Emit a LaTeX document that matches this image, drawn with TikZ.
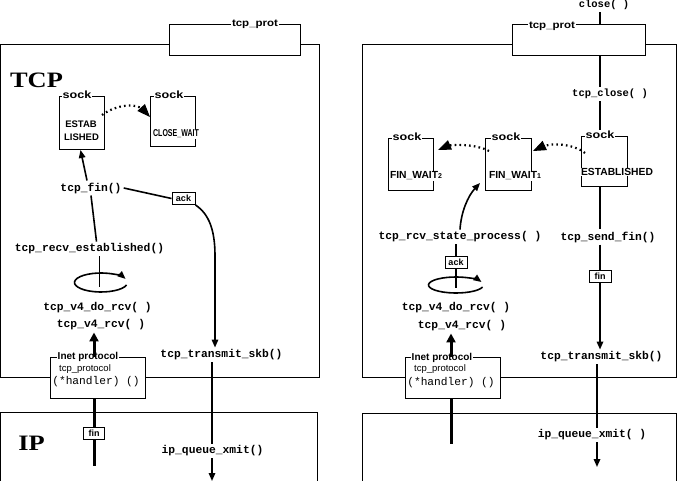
\documentclass[tikz,border=0pt]{standalone}
\usepackage{fontspec}
\newfontfamily\fnfont{Liberation Mono}
\newfontfamily\lbfont{Liberation Sans}
\newfontfamily\serifb{Liberation Serif}
\usetikzlibrary{arrows.meta,calc}
\begin{document}
\begin{tikzpicture}[x=1pt,y=-1pt,
  box/.style={draw,line width=1pt,fill=white,anchor=north west,inner sep=0pt,outer sep=0pt},
  fn/.style={font=\fnfont\bfseries\fontsize{11.3}{13}\selectfont,inner sep=2pt},
  fnsmall/.style={font=\fnfont\bfseries\fontsize{10.5}{12}\selectfont,inner sep=2pt},
  lbl/.style={font=\lbfont\bfseries\fontsize{10}{12}\selectfont,fill=white,inner sep=1pt},
  socklbl/.style={font=\lbfont\bfseries\fontsize{10.5}{12}\selectfont,fill=white,inner sep=1pt},
  stlbl/.style={font=\lbfont\bfseries\fontsize{9.5}{11}\selectfont,inner sep=0.5pt},
  fwlbl/.style={font=\lbfont\bfseries\fontsize{10.3}{12}\selectfont,inner sep=0.5pt,fill=white},
  tag/.style={draw,line width=1pt,fill=white,font=\lbfont\bfseries\fontsize{9}{10}\selectfont,inner sep=0pt,minimum height=12pt},
  big/.style={font=\serifb\bfseries\fontsize{22}{26}\selectfont,inner sep=0pt},
  conn/.style={line width=1.6pt},
  tip/.style={-{Triangle[length=8pt,width=6.5pt]}},
  heavy/.style={line width=3pt},
  heavytip/.style={-{Triangle[length=9pt,width=9pt]}},
  dotline/.style={line width=2.2pt,dash pattern=on 1.6pt off 3.2pt,shorten >=10pt},
  dottip/.style={line width=1pt,-{Triangle[length=13pt,width=10pt]}},
  hproto/.style={font=\fnfont\fontsize{11.2}{13}\selectfont,fill=white,inner sep=1pt},
  tproto/.style={font=\lbfont\fontsize{9.5}{11}\selectfont,inner sep=0pt}
]
\useasboundingbox (0,0) rectangle (677,481);

% ================= LEFT PANEL =================
\node[box,minimum width=318.5pt,minimum height=332pt] (tcpL) at (0.5,45) {};
\node[box,minimum width=316.5pt,minimum height=80pt] (ipL) at (0.5,412) {};
\node[box,minimum width=131pt,minimum height=31pt] (protL) at (169,25) {};
\node[lbl] (protLt) at (255,24) {\scalebox{1.15}[1]{tcp\_prot}};
\node[big] (tcpLt) at (36.5,80) {\scalebox{1.2}[1]{TCP}};
\node[big] (ipLt) at (31.5,443) {\scalebox{1.2}[1]{IP}};

\node[box,minimum width=45pt,minimum height=53pt] (estabL) at (59,97) {};
\node[socklbl] (sockL1) at (77,95) {\scalebox{1.2}[1]{sock}};
\node[stlbl] (estabLa) at (81,124) {ESTAB};
\node[stlbl] (estabLb) at (81.5,137.5) {LISHED};

\node[box,minimum width=45pt,minimum height=50pt] (closeL) at (150,97) {};
\node[socklbl] (sockL2) at (169,95) {\scalebox{1.2}[1]{sock}};
\node[stlbl,fill=white] (closeLt) at (176,134) {\scalebox{0.74}[1.05]{CLOSE\_WAIT}};

\node[fn] (finL) at (91,188) {tcp\_fin()};
\node[tag,minimum width=23pt] (ackL) at (183.5,198.5) {ack};
\node[fn] (recvL) at (89.5,249) {tcp\_recv\_established()};
\coordinate (loopL) at (101,282.5);
\node[fn] (dorcvL) at (97.5,308) {tcp\_v4\_do\_rcv( )};
\node[fn] (v4rcvL) at (101,325) {tcp\_v4\_rcv( )};

\node[box,minimum width=95pt,minimum height=41pt] (inetL) at (50,357) {};
\node[lbl] (inetLt) at (88,357) {Inet protocol};
\node[tproto] (tprotoL) at (85,369) {tcp\_protocol};
\node[hproto] (handL) at (96,382) {(*handler) ()};

\node[tag,minimum width=21pt] (finbL) at (94,433.5) {fin};
\node[fn] (ttsL) at (221.5,355) {tcp\_transmit\_skb()};
\node[fn] (iqxL) at (212.5,451) {ip\_queue\_xmit()};
\coordinate (botL) at (212,481);
\coordinate (inL) at (94,466);
\coordinate (bendL) at (215,256);
\coordinate (colL) at (212,0);
\coordinate (dStartL) at ([xshift=-2pt,yshift=-18pt]estabL.north east);
\coordinate (dEndL) at ([yshift=-20pt]closeL.north west);
\coordinate (dCtlL) at (137,103);

% left connectors
\draw[dotline] (dStartL) .. controls (117,104) and (dCtlL) .. (dEndL);
\draw[dottip] ($(dEndL)!13pt!(dCtlL)$) -- (dEndL);
\draw[conn,tip] ([xshift=-4pt]finL.north) -- ([xshift=-1pt]estabL.south);
\draw[conn] (finL.south) -- ([xshift=7pt]recvL.north);
\draw[conn] (finL.east) -- (ackL.west);
\draw[conn,tip] (ackL.south east) .. controls (209,214) and (215,230) .. (bendL) -- (bendL |- ttsL.north);
\draw[conn] ([xshift=10pt]recvL.south) -- ($(loopL)+(-1.5,4)$);
\draw[conn,tip] (loopL) ++(15:26.5 and 9.5) arc[start angle=15,end angle=338,x radius=26.5,y radius=9.5];
\draw[heavy,heavytip] (inetL.north -| finbL) -- (v4rcvL.south -| finbL);
\draw[heavy] (inetL.south -| finbL) -- (finbL.north);
\draw[heavy] (finbL.south) -- (inL);
\draw[conn] (ttsL.south -| colL) -- (iqxL.north -| colL);
\draw[conn,tip] (iqxL.south -| colL) -- (botL);

% ================= RIGHT PANEL =================
\node[box,minimum width=314pt,minimum height=332pt] (tcpR) at (362,45) {};
\node[box,minimum width=314pt,minimum height=80pt] (ipR) at (362,413) {};
\node[box,minimum width=133pt,minimum height=31pt] (protR) at (512,25) {};
\node[lbl] (protRt) at (552,26) {\scalebox{1.15}[1]{tcp\_prot}};

\node[fnsmall] (closecall) at (604,5) {close( )};
\node[fnsmall] (tcpcloseR) at (610,94) {tcp\_close( )};

\node[box,minimum width=46pt,minimum height=50pt] (estabR) at (581,137) {};
\node[socklbl] (sockR3) at (600,135) {\scalebox{1.2}[1]{sock}};
\node[fwlbl] (estabRt) at (617,172) {ESTABLISHED};

\node[box,minimum width=46pt,minimum height=52pt] (finw1) at (485,139) {};
\node[socklbl] (sockR2) at (506,137) {\scalebox{1.2}[1]{sock}};
\node[fwlbl] (finw1t) at (515,176) {FIN\_WAIT{\fontsize{7}{8}\selectfont 1}};

\node[box,minimum width=45pt,minimum height=52pt] (finw2) at (388,139) {};
\node[socklbl] (sockR1) at (407,137) {\scalebox{1.2}[1]{sock}};
\node[fwlbl] (finw2t) at (416,176) {FIN\_WAIT{\fontsize{7}{8}\selectfont 2}};

\node[fn] (rsp) at (460,237) {tcp\_rcv\_state\_process( )};
\node[fn] (sendfin) at (608,237) {tcp\_send\_fin()};
\node[tag,minimum width=22pt] (ackR) at (456,262.5) {ack};
\coordinate (loopR) at (456,285);
\node[fn] (dorcvR) at (456,308) {tcp\_v4\_do\_rcv( )};
\node[fn] (v4rcvR) at (462,326) {tcp\_v4\_rcv( )};
\node[tag,minimum width=22pt] (finR) at (600,276.5) {fin};

\node[box,minimum width=95pt,minimum height=41pt] (inetR) at (405,357) {};
\node[lbl] (inetRt) at (442,358) {Inet protocol};
\node[tproto] (tprotoR) at (440,369) {tcp\_protocol};
\node[hproto] (handR) at (451,383) {(*handler) ()};

\node[fn] (ttsR) at (601.5,357) {tcp\_transmit\_skb()};
\node[fn] (iqxR) at (592,435) {ip\_queue\_xmit( )};
\coordinate (colR) at (600,0);
\coordinate (colR2) at (451,0);
\coordinate (colR3) at (597,0);
\coordinate (inR) at (451,444);
\coordinate (botR) at (597,467);
\coordinate (dStartR1) at ([xshift=4pt,yshift=-16pt]estabR.north west);
\coordinate (dEndR1) at ([xshift=2pt,yshift=-12pt]finw1.north east);
\coordinate (dCtlR1) at (550,143);
\coordinate (dStartR2) at ([xshift=4pt,yshift=-12pt]finw1.north west);
\coordinate (dEndR2) at ([xshift=5pt,yshift=-11pt]finw2.north east);
\coordinate (dCtlR2) at (452,144);

% right connectors
\draw[conn] (closecall.south -| colR) -- (protR.north -| colR);
\draw[conn] (protR.south -| colR) -- (tcpcloseR.north -| colR);
\draw[conn] (tcpcloseR.south -| colR) -- (sockR3.north -| colR);
\draw[dotline] (dStartR1) .. controls (572,143) and (dCtlR1) .. (dEndR1);
\draw[dottip] ($(dEndR1)!13pt!(dCtlR1)$) -- (dEndR1);
\draw[dotline] (dStartR2) .. controls (476,144) and (dCtlR2) .. (dEndR2);
\draw[dottip] ($(dEndR2)!13pt!(dCtlR2)$) -- (dEndR2);
\draw[conn,tip] (rsp.north) .. controls (461,212) and (468,196) .. ([xshift=-5pt,yshift=8pt]finw1.south west);
\draw[conn] (estabR.south -| colR) -- (sendfin.north -| colR);
\draw[conn] (sendfin.south -| colR) -- (finR.north);
\draw[conn,tip] (finR.south) -- (ttsR.north -| colR);
\draw[conn] (ackR.north |- rsp.south) -- (ackR.north);
\draw[conn] (ackR.south) -- ($(loopR)+(0,3)$);
\draw[conn,tip] (loopR) ++(15:27.5 and 8) arc[start angle=15,end angle=338,x radius=27.5,y radius=8];
\draw[heavy,heavytip] (inetR.north -| colR2) -- (v4rcvR.south -| colR2);
\draw[heavy] (inetR.south -| colR2) -- (inR);
\draw[conn] (ttsR.south -| colR3) -- (iqxR.north -| colR3);
\draw[conn,tip] (iqxR.south -| colR3) -- (botR);
\end{tikzpicture}
\end{document}
